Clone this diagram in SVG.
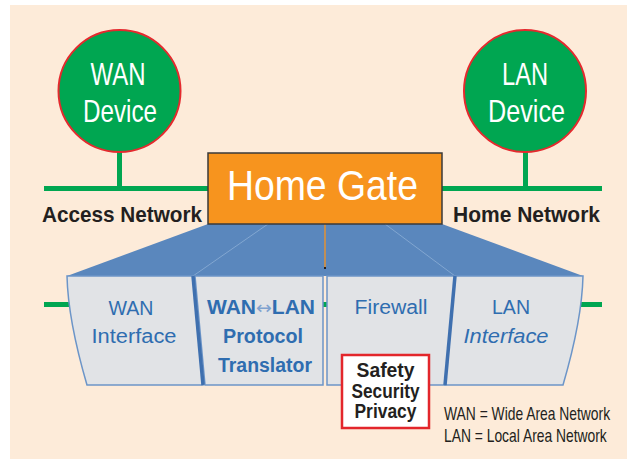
<svg xmlns="http://www.w3.org/2000/svg" width="627" height="459" viewBox="0 0 627 459">
  <defs>
    <style>
      .bus { stroke: #00A651; stroke-width: 5; fill: none; }
      .device circle { fill: #00A651; stroke: #E42A2E; stroke-width: 2; }
      .device text { fill: #FFFFFF; font-family: "Liberation Sans", Arial, sans-serif; font-size: 32px; text-anchor: middle; }
      .net { fill: #231F20; font-family: "Liberation Sans", Arial, sans-serif; font-size: 22px; font-weight: bold; }
      .panel { fill: #E1E3E6; stroke: #6C95C8; stroke-width: 1.5; }
      .ptext { fill: #2F6DB0; font-family: "Liberation Sans", Arial, sans-serif; font-size: 20px; text-anchor: middle; }
      .divider { stroke: #3F70AF; stroke-width: 3.5; fill: none; }
      .legend { fill: #231F20; font-family: "Liberation Sans", Arial, sans-serif; font-size: 18px; }
      .note { fill: #231F20; font-family: "Liberation Sans", Arial, sans-serif; font-size: 20px; font-weight: bold; text-anchor: middle; }
    </style>
  </defs>

  <!-- backdrop -->
  <rect x="0" y="0" width="627" height="459" fill="#FFFFFF"/>
  <rect x="10" y="5" width="617" height="454" fill="#FDEBD9"/>

  <!-- network lines -->
  <g id="connectors">
    <line class="bus" x1="119.5" y1="150" x2="119.5" y2="188.5"/>
    <line class="bus" x1="525.5" y1="150" x2="525.5" y2="188.5"/>
    <line class="bus" x1="44" y1="188.5" x2="210" y2="188.5"/>
    <line class="bus" x1="440" y1="188.5" x2="602" y2="188.5"/>
    <line class="bus" x1="44" y1="304.5" x2="602" y2="304.5"/>
  </g>

  <g id="wan-device" class="device">
    <circle cx="119.5" cy="91" r="61"/>
    <text x="118" y="85" textLength="55" lengthAdjust="spacingAndGlyphs">WAN</text>
    <text x="120" y="122" textLength="74" lengthAdjust="spacingAndGlyphs">Device</text>
  </g>

  <g id="lan-device" class="device">
    <circle cx="525" cy="91" r="61"/>
    <text x="525" y="85" textLength="46" lengthAdjust="spacingAndGlyphs">LAN</text>
    <text x="526.5" y="122" textLength="77" lengthAdjust="spacingAndGlyphs">Device</text>
  </g>

  <g id="access-network">
    <text class="net" x="42" y="222" textLength="160" lengthAdjust="spacingAndGlyphs">Access Network</text>
  </g>
  <g id="home-network">
    <text class="net" x="453" y="222" textLength="147" lengthAdjust="spacingAndGlyphs">Home Network</text>
  </g>

  <!-- gateway roof spreading over the four modules -->
  <g id="gateway-roof">
    <polygon points="208,224 442,224 583,276 67,276" fill="#5A87BD"/>
    <line x1="268" y1="224" x2="193" y2="276" stroke="#8DAED6" stroke-width="0.8"/>
    <line x1="385" y1="224" x2="455" y2="276" stroke="#8DAED6" stroke-width="0.8"/>
    <line x1="325" y1="224" x2="325" y2="267" stroke="#F7941E" stroke-width="1.3"/>
    <rect x="324" y="267" width="2" height="2" fill="#231F20"/>
  </g>

  <g id="home-gate">
    <rect x="208" y="153" width="234" height="71" fill="#F7941E" stroke="#3A3A3A" stroke-width="1.5"/>
    <text x="322.5" y="200" fill="#FFFFFF" font-family="Liberation Sans, Arial, sans-serif" font-size="43" text-anchor="middle" textLength="191" lengthAdjust="spacingAndGlyphs">Home Gate</text>
  </g>

  <g id="wan-interface">
    <path class="panel" d="M67,276 L193,276 L203,385 L87,385 Q68,320 67,276 Z"/>
    <text class="ptext" x="131" y="315" textLength="45" lengthAdjust="spacingAndGlyphs">WAN</text>
    <text class="ptext" x="134" y="343" textLength="85" lengthAdjust="spacingAndGlyphs">Interface</text>
  </g>

  <g id="protocol-translator">
    <path class="panel" d="M195,276 L323,276 L323,385 L205,385 Z"/>
    <text class="ptext" x="261" y="314" font-weight="bold" textLength="108" lengthAdjust="spacingAndGlyphs">WAN<tspan font-family="DejaVu Sans, sans-serif" font-weight="normal" font-size="18" fill="#7FA2CF">↔</tspan>LAN</text>
    <text class="ptext" x="263" y="343" font-weight="bold" textLength="80" lengthAdjust="spacingAndGlyphs">Protocol</text>
    <text class="ptext" x="265" y="372" font-weight="bold" textLength="94" lengthAdjust="spacingAndGlyphs">Translator</text>
  </g>

  <g id="firewall">
    <path class="panel" d="M327,276 L455,276 L445,385 L327,385 Z"/>
    <text class="ptext" x="391" y="314" textLength="73" lengthAdjust="spacingAndGlyphs">Firewall</text>
  </g>

  <g id="lan-interface">
    <path class="panel" d="M455,276 L583,276 Q582,320 563,385 L445,385 Z"/>
    <text class="ptext" x="511" y="314" textLength="38" lengthAdjust="spacingAndGlyphs">LAN</text>
    <text class="ptext" x="506" y="343" font-style="italic" textLength="85" lengthAdjust="spacingAndGlyphs">Interface</text>
  </g>

  <!-- slanted seams between modules -->
  <g id="seams">
    <line class="divider" x1="193" y1="276" x2="203" y2="385"/>
    <line class="divider" x1="455" y1="276" x2="445" y2="385"/>
  </g>

  <g id="safety-note">
    <rect x="342" y="355" width="87" height="73" fill="#FFFFFF" stroke="#E3262B" stroke-width="2.5"/>
    <text class="note" x="385.5" y="377" textLength="58" lengthAdjust="spacingAndGlyphs">Safety</text>
    <text class="note" x="385.5" y="398" textLength="68" lengthAdjust="spacingAndGlyphs">Security</text>
    <text class="note" x="385.5" y="418" textLength="62" lengthAdjust="spacingAndGlyphs">Privacy</text>
  </g>

  <!-- abbreviations, set in a narrowed face -->
  <g id="legend">
    <text class="legend" transform="translate(444,420) scale(0.77,1)">WAN = Wide Area Network</text>
    <text class="legend" transform="translate(444,442) scale(0.77,1)">LAN = Local Area Network</text>
  </g>
</svg>
